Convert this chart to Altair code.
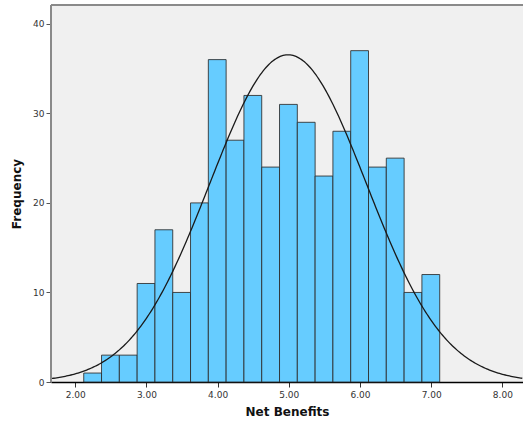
import altair as alt
import pandas as pd

# ---- data ----
bin_start = [2.12, 2.37, 2.62, 2.87, 3.12, 3.37, 3.62, 3.87, 4.12, 4.37,
             4.62, 4.87, 5.12, 5.37, 5.62, 5.87, 6.12, 6.37, 6.62, 6.87]
bin_end = [2.37, 2.62, 2.87, 3.12, 3.37, 3.62, 3.87, 4.12, 4.37, 4.62,
           4.87, 5.12, 5.37, 5.62, 5.87, 6.12, 6.37, 6.62, 6.87, 7.12]
counts = [1, 3, 3, 11, 17, 10, 20, 36, 27, 32,
          24, 31, 29, 23, 28, 37, 24, 25, 10, 12]
x_ticks = [2, 3, 4, 5, 6, 7, 8]
y_ticks = [0, 10, 20, 30, 40]

# fitted normal curve parameters (as shown in the chart)
mean_val = 4.99
sd_val = 1.10
bin_width = 0.25
n_total = sum(counts)

x_domain = [1.66, 8.29]
y_domain = [0, 42.1]

W, H = 472, 377

bars_df = pd.DataFrame({"start": bin_start, "end": bin_end, "count": counts})
bars_df["zero"] = 0

x_scale = alt.Scale(domain=x_domain, nice=False, zero=False)
y_scale = alt.Scale(domain=y_domain, nice=False)

bars = alt.Chart(bars_df).mark_rect(
    fill="#66CCFF", stroke="#2b2b2b", strokeWidth=1, strokeOpacity=0.85
).encode(
    x=alt.X("start:Q", scale=x_scale,
            axis=alt.Axis(values=x_ticks, format=".2f", title="Net Benefits",
                          grid=False, domain=True, domainColor="#000000",
                          domainWidth=1.5, tickColor="#333333", tickSize=5,
                          labelPadding=3, titlePadding=7)),
    x2="end:Q",
    y=alt.Y("count:Q", scale=y_scale,
            axis=alt.Axis(values=y_ticks, format="d", title="Frequency",
                          grid=False, domain=False, tickColor="#555555",
                          tickSize=5, labelPadding=2, titlePadding=9)),
    y2="zero:Q",
)

curve = alt.Chart(alt.sequence(start=x_domain[0], stop=x_domain[1] + 0.01,
                               step=0.02, as_="x")).transform_calculate(
    y=f"{n_total} * {bin_width} / ({sd_val} * sqrt(2 * PI)) * "
      f"exp(-0.5 * pow((datum.x - {mean_val}) / {sd_val}, 2))"
).mark_line(color="#1a1a1a", strokeWidth=1.3, clip=True).encode(
    x=alt.X("x:Q", scale=x_scale),
    y=alt.Y("y:Q", scale=y_scale),
)

# frame: top and left borders only (plot area runs off the right edge)
top_border = alt.Chart().mark_rule(color="#8a8a8a", strokeWidth=2).encode(
    x=alt.value(0), x2=alt.value(W), y=alt.value(0))
left_border = alt.Chart().mark_rule(color="#8a8a8a", strokeWidth=2).encode(
    x=alt.value(0), y=alt.value(0), y2=alt.value(H))

chart = alt.layer(bars, curve, top_border, left_border).properties(
    width=W, height=H,
    autosize=alt.AutoSizeParams(type="none"),
    padding={"left": 51, "top": 5, "right": 0, "bottom": 43},
    background="#FFFFFF",
).configure_view(
    fill="#F0F0F0", stroke="transparent"
).configure_axis(
    labelFont="DejaVu Sans", labelFontSize=9, labelColor="#333333",
    titleFont="DejaVu Sans", titleFontSize=12, titleFontWeight="bold",
    titleColor="#111111",
)

chart.save("out.html", embed_options={"renderer": "svg", "actions": False})
